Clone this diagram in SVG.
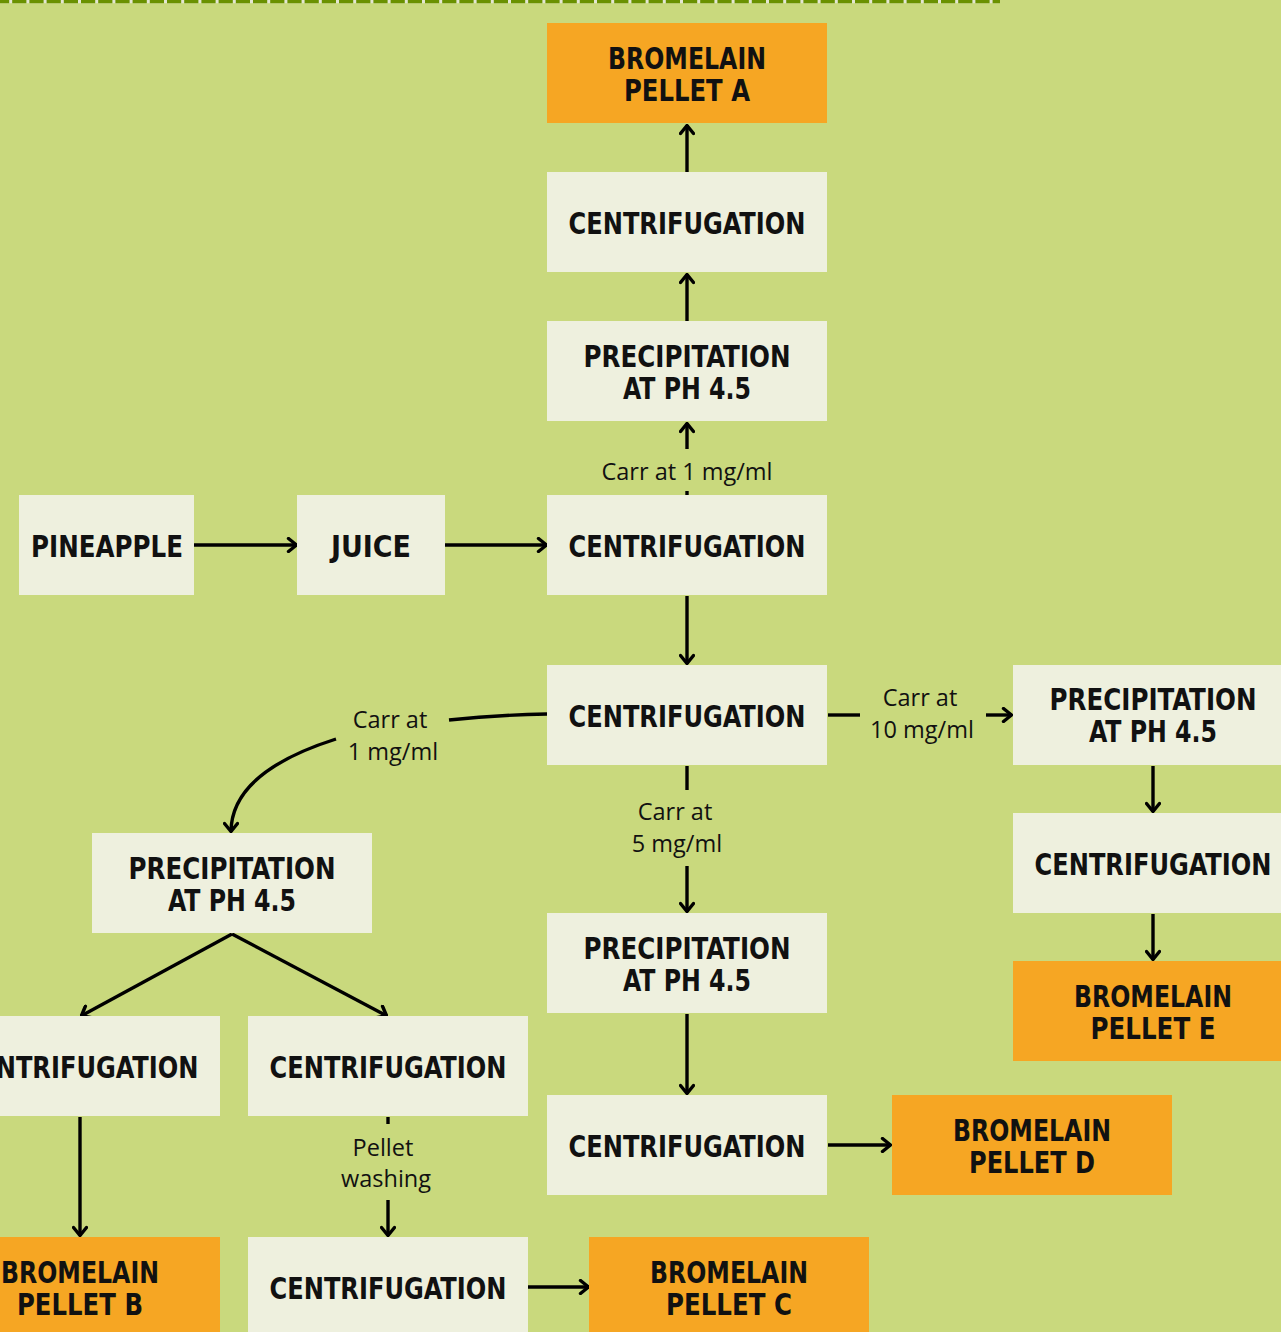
<svg xmlns="http://www.w3.org/2000/svg" width="1281" height="1332" viewBox="0 0 1281 1332">
<defs>
<style>
.bg{fill:#c9d97d}
.box{fill:#eef0de}
.org{fill:#f6a623}
.t{font-family:"DejaVu Sans Condensed","DejaVu Sans",sans-serif;font-weight:bold;font-size:30px;fill:#111;text-anchor:middle}
.l{font-family:"Open Sans","Liberation Sans",sans-serif;font-size:23.5px;fill:#111;text-anchor:middle}
.c{fill:none;stroke:#000;stroke-width:3.4}
</style>
<marker id="ah" markerUnits="userSpaceOnUse" viewBox="0 0 12 16" refX="11" refY="8" markerWidth="12" markerHeight="16" orient="auto">
<path d="M2.5,1.5 L10.5,8 L2.5,14.5" fill="none" stroke="#000" stroke-width="3.4" stroke-linecap="round" stroke-linejoin="round"/>
</marker>
</defs>
<rect class="bg" x="0" y="0" width="1281" height="1332"/>
<line x1="0" y1="1.5" x2="1000" y2="1.5" stroke="#e4e6d2" stroke-width="3.5"/>
<line x1="-5" y1="1.5" x2="1000" y2="1.5" stroke="#6a9100" stroke-width="3.5" stroke-dasharray="14.2,3"/>

<g id="connectors">
<line class="c" x1="687" y1="172" x2="687" y2="125" marker-end="url(#ah)"/>
<line class="c" x1="687" y1="321" x2="687" y2="274" marker-end="url(#ah)"/>
<line class="c" x1="687" y1="491" x2="687" y2="495"/>
<line class="c" x1="687" y1="449" x2="687" y2="423" marker-end="url(#ah)"/>
<line class="c" x1="194" y1="545" x2="297" y2="545" marker-end="url(#ah)"/>
<line class="c" x1="445" y1="545" x2="547" y2="545" marker-end="url(#ah)"/>
<line class="c" x1="687" y1="596" x2="687" y2="664" marker-end="url(#ah)"/>
<path class="c" d="M547,714 Q495,715 449,720"/>
<path class="c" d="M336,739 C270,760 231,790 231,832" marker-end="url(#ah)"/>
<line class="c" x1="828" y1="715" x2="860" y2="715"/>
<line class="c" x1="986" y1="715" x2="1012" y2="715" marker-end="url(#ah)"/>
<line class="c" x1="687" y1="766" x2="687" y2="790"/>
<line class="c" x1="687" y1="866" x2="687" y2="912" marker-end="url(#ah)"/>
<line class="c" x1="1153" y1="766" x2="1153" y2="812" marker-end="url(#ah)"/>
<line class="c" x1="1153" y1="914" x2="1153" y2="960" marker-end="url(#ah)"/>
<line class="c" x1="232" y1="934" x2="81" y2="1016" marker-end="url(#ah)"/>
<line class="c" x1="232" y1="934" x2="387" y2="1016" marker-end="url(#ah)"/>
<line class="c" x1="80" y1="1117" x2="80" y2="1236" marker-end="url(#ah)"/>
<line class="c" x1="388" y1="1117" x2="388" y2="1124"/>
<line class="c" x1="388" y1="1200" x2="388" y2="1236" marker-end="url(#ah)"/>
<line class="c" x1="528" y1="1287" x2="589" y2="1287" marker-end="url(#ah)"/>
<line class="c" x1="687" y1="1014" x2="687" y2="1094" marker-end="url(#ah)"/>
<line class="c" x1="828" y1="1145" x2="891" y2="1145" marker-end="url(#ah)"/>
<text class="l" x="687" y="480">Carr at 1 mg/ml</text>
<text class="l" x="390" y="728">Carr at</text>
<text class="l" x="393" y="760">1 mg/ml</text>
<text class="l" x="920" y="706">Carr at</text>
<text class="l" x="922" y="738">10 mg/ml</text>
<text class="l" x="675" y="820">Carr at</text>
<text class="l" x="677" y="852">5 mg/ml</text>
<text class="l" x="383" y="1156">Pellet</text>
<text class="l" x="386" y="1187">washing</text>
</g>

<g id="pelletA"><rect class="org" x="547" y="23" width="280" height="100"/><text class="t" x="687" y="69" textLength="158" lengthAdjust="spacingAndGlyphs">BROMELAIN</text><text class="t" x="687" y="101" textLength="126" lengthAdjust="spacingAndGlyphs">PELLET A</text></g>
<g id="centTop"><rect class="box" x="547" y="172" width="280" height="100"/><text class="t" x="687" y="234" textLength="237" lengthAdjust="spacingAndGlyphs">CENTRIFUGATION</text></g>
<g id="precipTop"><rect class="box" x="547" y="321" width="280" height="100"/><text class="t" x="687" y="367" textLength="207" lengthAdjust="spacingAndGlyphs">PRECIPITATION</text><text class="t" x="687" y="399" textLength="128" lengthAdjust="spacingAndGlyphs">AT PH 4.5</text></g>
<g id="pineapple"><rect class="box" x="19" y="495" width="175" height="100"/><text class="t" x="107" y="557" textLength="152" lengthAdjust="spacingAndGlyphs">PINEAPPLE</text></g>
<g id="juice"><rect class="box" x="297" y="495" width="148" height="100"/><text class="t" x="371" y="557" textLength="80" lengthAdjust="spacingAndGlyphs">JUICE</text></g>
<g id="centMain"><rect class="box" x="547" y="495" width="280" height="100"/><text class="t" x="687" y="557" textLength="237" lengthAdjust="spacingAndGlyphs">CENTRIFUGATION</text></g>
<g id="cent2"><rect class="box" x="547" y="665" width="280" height="100"/><text class="t" x="687" y="727" textLength="237" lengthAdjust="spacingAndGlyphs">CENTRIFUGATION</text></g>
<g id="precipE"><rect class="box" x="1013" y="665" width="280" height="100"/><text class="t" x="1153" y="710" textLength="207" lengthAdjust="spacingAndGlyphs">PRECIPITATION</text><text class="t" x="1153" y="742" textLength="128" lengthAdjust="spacingAndGlyphs">AT PH 4.5</text></g>
<g id="centE"><rect class="box" x="1013" y="813" width="280" height="100"/><text class="t" x="1153" y="875" textLength="237" lengthAdjust="spacingAndGlyphs">CENTRIFUGATION</text></g>
<g id="pelletE"><rect class="org" x="1013" y="961" width="280" height="100"/><text class="t" x="1153" y="1007" textLength="158" lengthAdjust="spacingAndGlyphs">BROMELAIN</text><text class="t" x="1153" y="1039" textLength="125" lengthAdjust="spacingAndGlyphs">PELLET E</text></g>
<g id="precipLeft"><rect class="box" x="92" y="833" width="280" height="100"/><text class="t" x="232" y="879" textLength="207" lengthAdjust="spacingAndGlyphs">PRECIPITATION</text><text class="t" x="232" y="911" textLength="128" lengthAdjust="spacingAndGlyphs">AT PH 4.5</text></g>
<g id="precipMid"><rect class="box" x="547" y="913" width="280" height="100"/><text class="t" x="687" y="959" textLength="207" lengthAdjust="spacingAndGlyphs">PRECIPITATION</text><text class="t" x="687" y="991" textLength="128" lengthAdjust="spacingAndGlyphs">AT PH 4.5</text></g>
<g id="centLL"><rect class="box" x="-60" y="1016" width="280" height="100"/><text class="t" x="80" y="1078" textLength="237" lengthAdjust="spacingAndGlyphs">CENTRIFUGATION</text></g>
<g id="centLR"><rect class="box" x="248" y="1016" width="280" height="100"/><text class="t" x="388" y="1078" textLength="237" lengthAdjust="spacingAndGlyphs">CENTRIFUGATION</text></g>
<g id="centMid"><rect class="box" x="547" y="1095" width="280" height="100"/><text class="t" x="687" y="1157" textLength="237" lengthAdjust="spacingAndGlyphs">CENTRIFUGATION</text></g>
<g id="pelletD"><rect class="org" x="892" y="1095" width="280" height="100"/><text class="t" x="1032" y="1141" textLength="158" lengthAdjust="spacingAndGlyphs">BROMELAIN</text><text class="t" x="1032" y="1173" textLength="126" lengthAdjust="spacingAndGlyphs">PELLET D</text></g>
<g id="pelletB"><rect class="org" x="-60" y="1237" width="280" height="100"/><text class="t" x="80" y="1283" textLength="158" lengthAdjust="spacingAndGlyphs">BROMELAIN</text><text class="t" x="80" y="1315" textLength="126" lengthAdjust="spacingAndGlyphs">PELLET B</text></g>
<g id="centBottom"><rect class="box" x="248" y="1237" width="280" height="100"/><text class="t" x="388" y="1299" textLength="237" lengthAdjust="spacingAndGlyphs">CENTRIFUGATION</text></g>
<g id="pelletC"><rect class="org" x="589" y="1237" width="280" height="100"/><text class="t" x="729" y="1283" textLength="158" lengthAdjust="spacingAndGlyphs">BROMELAIN</text><text class="t" x="729" y="1315" textLength="126" lengthAdjust="spacingAndGlyphs">PELLET C</text></g>
</svg>
